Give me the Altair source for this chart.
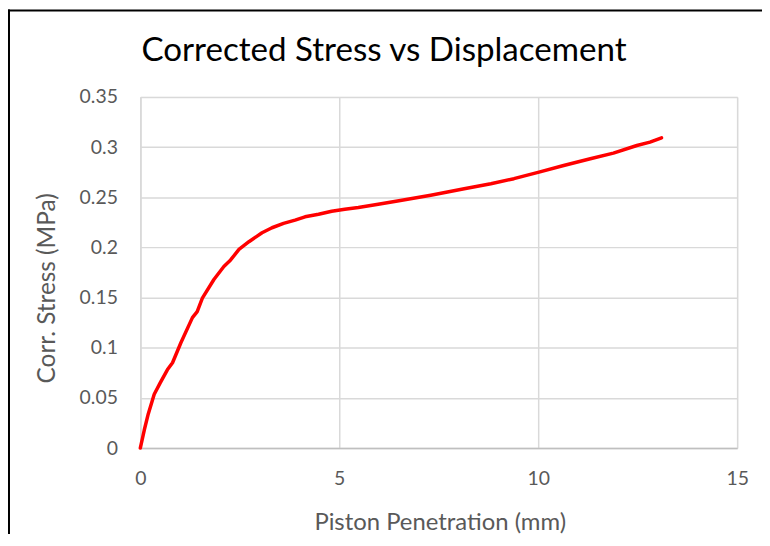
import altair as alt
import pandas as pd

# Data
penetration_mm = [0.0, 0.1, 0.2, 0.35, 0.5, 0.68, 0.81, 1.02, 1.31, 1.43, 1.56, 1.85, 2.1,
                  2.27, 2.48, 2.73, 3.06, 3.31, 3.6, 3.89, 4.14, 4.48, 4.81, 5.14, 5.48,
                  5.98, 6.5, 7.3, 8.14, 8.81, 9.39, 10.02, 10.64, 11.31, 11.89, 12.48,
                  12.81, 13.1]
corr_stress_mpa = [0.0, 0.018, 0.034, 0.0536, 0.065, 0.078, 0.085, 0.105, 0.130, 0.136,
                   0.1495, 0.168, 0.181, 0.1875, 0.198, 0.2057, 0.2146, 0.2196, 0.2239,
                   0.2272, 0.2305, 0.2331, 0.2361, 0.238, 0.2398, 0.243, 0.2465, 0.252,
                   0.2585, 0.2635, 0.2685, 0.2751, 0.2817, 0.2884, 0.294, 0.3016, 0.3049,
                   0.3092]
x_ticks = [0, 5, 10, 15]
y_ticks = [0, 0.05, 0.1, 0.15, 0.2, 0.25, 0.3, 0.35]

title_text = "Corrected Stress vs Displacement"
x_title = "Piston Penetration (mm)"
y_title = "Corr. Stress (MPa)"

df = pd.DataFrame({"pen": penetration_mm, "stress": corr_stress_mpa})

FONT = "Lato"
GRAY = "#595959"
W, H = 600, 353

line = alt.Chart(df).mark_line(
    color="#FF0000", strokeWidth=3.5, strokeJoin="round", strokeCap="round"
).encode(
    x=alt.X("pen:Q",
            scale=alt.Scale(domain=[0, 15], nice=False, zero=False),
            axis=alt.Axis(values=x_ticks, title=x_title, format="d",
                          ticks=False, tickSize=0, labelPadding=37,
                          labelBaseline="alphabetic", labelFlush=False,
                          labelFont=FONT, labelFontSize=19.5, labelColor=GRAY,
                          titleFont=FONT, titleFontSize=24, titleColor=GRAY,
                          titleFontWeight="normal",
                          titleX=W / 2 + 1, titleY=82, titleBaseline="alphabetic",
                          titleAlign="center",
                          domainColor="#BFBFBF", domainWidth=1.5,
                          gridColor="#D9D9D9", gridWidth=1.5)),
    y=alt.Y("stress:Q",
            scale=alt.Scale(domain=[0, 0.35], nice=False),
            axis=alt.Axis(values=y_ticks, title=y_title, format=".2~f",
                          ticks=False, tickSize=0, labelPadding=23,
                          labelFont=FONT, labelFontSize=19.5, labelColor=GRAY,
                          titleFont=FONT, titleFontSize=24.5, titleColor=GRAY,
                          titleFontWeight="normal", titleAngle=270,
                          titleX=-86, titleY=192, titleBaseline="alphabetic",
                          titleAlign="center",
                          domainColor="#D9D9D9", domainWidth=1.5,
                          gridColor="#D9D9D9", gridWidth=1.5)),
)

title_df = pd.DataFrame({"t": [title_text]})
title = alt.Chart(title_df).mark_text(
    font=FONT, fontSize=33.3, color="#000000", baseline="alphabetic", align="center"
).encode(text="t:N", x=alt.value(245), y=alt.value(-36))

border_df = pd.DataFrame({"b": [0]})
top_border = alt.Chart(border_df).mark_rule(color="#000000", strokeWidth=2).encode(
    x=alt.value(-133), x2=alt.value(630), y=alt.value(-87))
left_border = alt.Chart(border_df).mark_rule(color="#000000", strokeWidth=2).encode(
    x=alt.value(-132), y=alt.value(-88), y2=alt.value(H + 90))

chart = alt.layer(line, title, top_border, left_border).properties(
    width=W, height=H,
    autosize=alt.AutoSizeParams(type="none"),
    padding={"left": 133, "top": 88, "right": 25, "bottom": 85},
).configure_view(stroke="transparent").configure(background="#FFFFFF")

chart.save("out.html", embed_options={"renderer": "svg", "actions": False})
